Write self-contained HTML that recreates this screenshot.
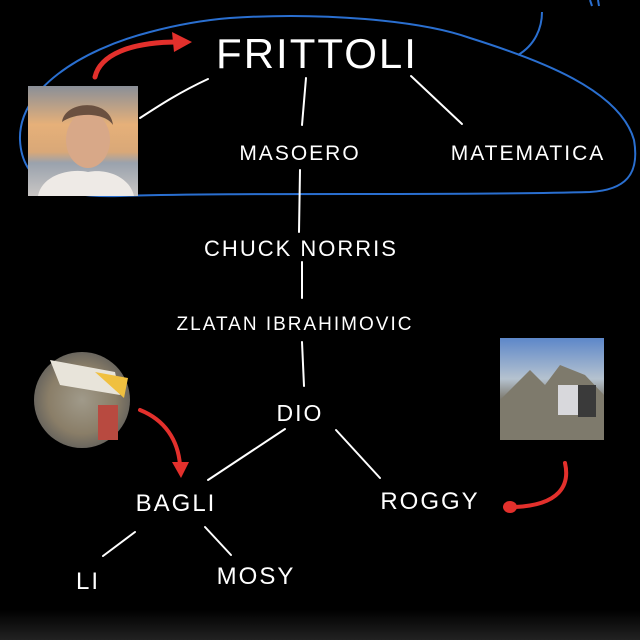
<!DOCTYPE html>
<html><head><meta charset="utf-8"><style>
html,body{margin:0;padding:0;background:#000;width:640px;height:640px;overflow:hidden}
svg{display:block}
text{font-family:"Liberation Sans",sans-serif;fill:#fff;font-weight:normal;letter-spacing:2px}
</style></head><body>
<svg width="640" height="640" viewBox="0 0 640 640">
<defs>
<linearGradient id="sky" x1="0" y1="0" x2="0" y2="1">
<stop offset="0" stop-color="#8a8f98"/><stop offset="0.35" stop-color="#e6b079"/><stop offset="0.6" stop-color="#d9a878"/><stop offset="0.7" stop-color="#9aa2ad"/><stop offset="1" stop-color="#c9c6c4"/></linearGradient>
<linearGradient id="mt" x1="0" y1="0" x2="0" y2="1">
<stop offset="0" stop-color="#5d87c9"/><stop offset="0.4" stop-color="#b5c2cf"/><stop offset="0.6" stop-color="#7d7a70"/><stop offset="1" stop-color="#8f8a80"/></linearGradient>
<radialGradient id="cg" cx="0.5" cy="0.5" r="0.5">
<stop offset="0" stop-color="#a09a8a"/><stop offset="0.7" stop-color="#8a7e68"/><stop offset="1" stop-color="#6a665e"/></radialGradient>
<linearGradient id="bot" x1="0" y1="0" x2="0" y2="1"><stop offset="0" stop-color="#000"/><stop offset="1" stop-color="#222"/></linearGradient>
</defs>
<rect x="0" y="610" width="640" height="30" fill="url(#bot)"/>
<path d="M230,18 C320,12 420,20 470,38 C540,60 620,90 634,140 C640,175 625,190 590,192 C450,196 250,192 120,196 C60,198 22,185 20,140 C18,90 80,50 150,32 C180,24 205,20 230,18 Z" fill="none" stroke="#2a6fd0" stroke-width="2"/>
<path d="M518,55 C535,45 542,28 542,12" fill="none" stroke="#2a6fd0" stroke-width="2"/>
<path d="M590,0 L592,6 M598,0 L599,6" stroke="#2a6fd0" stroke-width="2"/>
<path d="M95,77 C100,55 130,42 178,42" fill="none" stroke="#e3302c" stroke-width="5" stroke-linecap="round"/>
<path d="M172,32 L192,42 L174,52 Z" fill="#e3302c"/>
<path d="M140,410 C165,420 178,440 180,465" fill="none" stroke="#e3302c" stroke-width="4" stroke-linecap="round"/>
<path d="M172,462 L181,478 L189,462 Z" fill="#e3302c"/>
<path d="M565,463 C570,485 560,505 515,507" fill="none" stroke="#e3302c" stroke-width="4" stroke-linecap="round"/>
<ellipse cx="510" cy="507" rx="7" ry="6" fill="#e3302c"/>
<rect x="28" y="86" width="110" height="110" fill="url(#sky)"/>
<ellipse cx="88" cy="140" rx="22" ry="28" fill="#d8a888"/>
<path d="M62,122 C65,100 110,98 113,125 C105,112 75,112 62,122 Z" fill="#6a5040"/>
<path d="M38,196 C42,175 70,168 88,172 C108,168 130,178 134,196 Z" fill="#eeeae6"/>
<rect x="500" y="338" width="104" height="102" fill="url(#mt)"/>
<path d="M500,400 L530,370 L545,385 L560,365 L585,375 L604,395 L604,440 L500,440 Z" fill="#7e7a6c"/>
<rect x="558" y="385" width="20" height="30" fill="#d8d8dc"/>
<rect x="578" y="385" width="18" height="32" fill="#3a3a3a"/>
<circle cx="82" cy="400" r="48" fill="url(#cg)"/>
<path d="M50,360 L115,372 L120,395 L60,385 Z" fill="#e8e4da"/>
<path d="M95,372 L128,378 L124,398 Z" fill="#f0c040"/>
<rect x="98" y="405" width="20" height="35" fill="#b84a40"/>
<g stroke="#fff" stroke-width="2" fill="none" stroke-linecap="round">
<path d="M208,79 C180,92 160,105 140,118"/>
<path d="M306,78 L302,125"/>
<path d="M411,76 L462,124"/>
<path d="M300,170 L299,232"/>
<path d="M302,262 L302,298"/>
<path d="M302,342 L304,386"/>
<path d="M285,429 L208,480"/>
<path d="M336,430 L380,478"/>
<path d="M135,532 L103,556"/>
<path d="M205,527 L231,555"/>
</g>
<text x="317" y="68" font-size="42" text-anchor="middle" style="letter-spacing:2px">FRITTOLI</text>
<text x="300" y="160" font-size="21" text-anchor="middle">MASOERO</text>
<text x="528" y="160" font-size="21" text-anchor="middle">MATEMATICA</text>
<text x="301" y="256" font-size="22" text-anchor="middle">CHUCK NORRIS</text>
<text x="295" y="330" font-size="19" text-anchor="middle">ZLATAN IBRAHIMOVIC</text>
<text x="300" y="421" font-size="23" text-anchor="middle">DIO</text>
<text x="176" y="511" font-size="24" text-anchor="middle">BAGLI</text>
<text x="430" y="509" font-size="24" text-anchor="middle">ROGGY</text>
<text x="88" y="589" font-size="24" text-anchor="middle">LI</text>
<text x="256" y="584" font-size="24" text-anchor="middle">MOSY</text>
</svg>
</body></html>
